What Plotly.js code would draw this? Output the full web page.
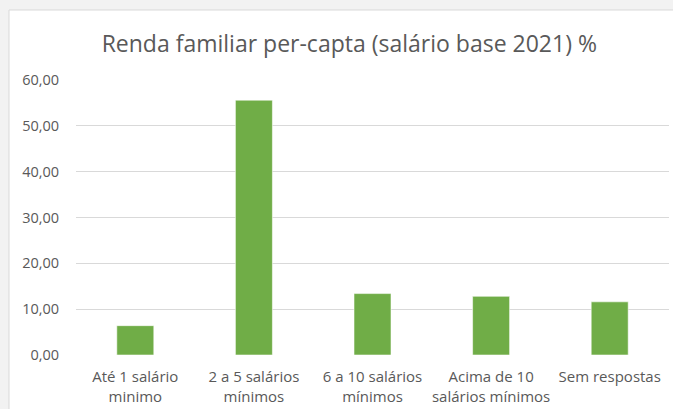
<!DOCTYPE html>
<html>
<head>
<meta charset="utf-8">
<script src="https://cdn.plot.ly/plotly-3.0.1.min.js"></script>
<style>html,body{margin:0;padding:0;background:#f2f2f2;}#chart{width:673px;height:409px;}</style>
</head>
<body>
<div id="chart"></div>
<script>
const categories = ["Até 1 salário<br>minimo", "2 a 5 salários<br>mínimos", "6 a 10 salários<br>mínimos", "Acima de 10<br>salários mínimos", "Sem respostas"];
const values = [6.4, 55.6, 13.4, 12.8, 11.6];
const yTicks = [0, 10, 20, 30, 40, 50, 60];

const trace = {
  type: "bar",
  x: categories,
  y: values,
  marker: { color: "#70ad47", line: { color: "rgba(255,255,255,0.55)", width: 1 } },
  hoverinfo: "skip"
};

const layout = {
  width: 673,
  height: 409,
  separators: ",.",
  paper_bgcolor: "#f2f2f2",
  plot_bgcolor: "rgba(0,0,0,0)",
  margin: { l: 76, r: 4, t: 80, b: 54, pad: 0 },
  bargap: 0.688,
  showlegend: false,
  font: { family: "Open Sans, sans-serif", color: "#595959", size: 14 },
  title: {
    text: "Renda familiar per-capta (salário base 2021) %",
    font: { family: "Open Sans, sans-serif", size: 23, color: "#595959" },
    xref: "container", yref: "container",
    x: 0.519, xanchor: "center",
    y: 0.893, yanchor: "middle"
  },
  xaxis: {
    type: "category",
    showgrid: false,
    zeroline: false,
    showline: false,
    ticks: "outside", ticklen: 8, tickcolor: "rgba(0,0,0,0)",
    tickfont: { size: 15, color: "#595959" }
  },
  yaxis: {
    range: [0, 60],
    tickvals: yTicks,
    tickformat: ".2f",
    showgrid: true,
    gridcolor: "#d9d9d9",
    gridwidth: 1,
    zeroline: false,
    showline: false,
    ticks: "outside", ticklen: 13, tickcolor: "rgba(0,0,0,0)",
    tickfont: { size: 14.5, color: "#595959" }
  },
  shapes: [
    { type: "rect", xref: "paper", yref: "paper", layer: "below",
      x0: -67/593, x1: 1.01, y0: -0.25, y1: 1 + 70/275,
      fillcolor: "#ffffff", line: { color: "#d9d9d9", width: 1 } }
  ]
};

Plotly.newPlot("chart", [trace], layout, { staticPlot: true, displayModeBar: false });
</script>
</body>
</html>
